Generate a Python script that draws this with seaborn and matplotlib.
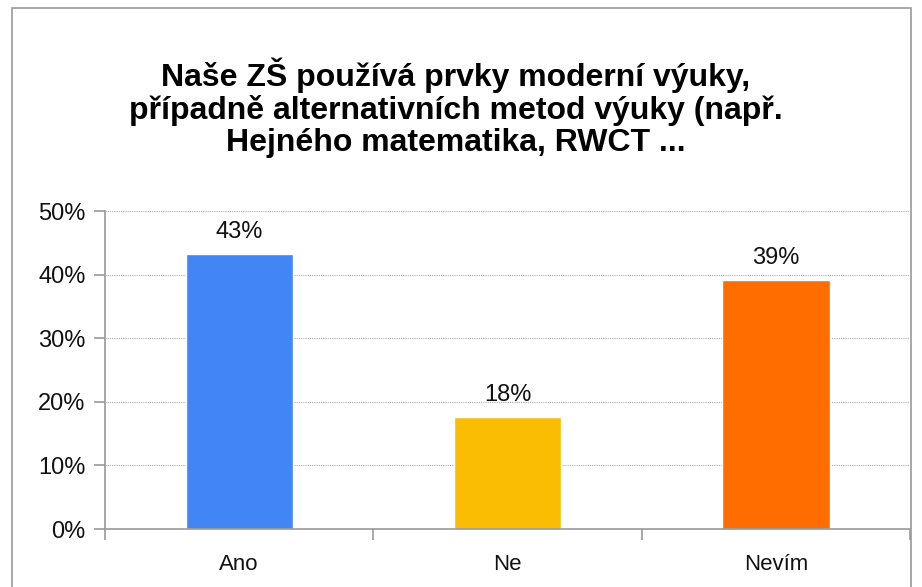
import matplotlib
matplotlib.use("Agg")
import matplotlib.pyplot as plt
import seaborn as sns
import pandas as pd
from matplotlib.patches import Rectangle
from matplotlib.ticker import PercentFormatter

categories = ["Ano", "Ne", "Nevím"]
values = [43.2, 17.6, 39.2]
labels = ["43%", "18%", "39%"]
colors = ["#4285F4", "#FBBC04", "#FF6D01"]
yticks = [0, 10, 20, 30, 40, 50]
title = ("Naše ZŠ používá prvky moderní výuky,\n"
         "případně alternativních metod výuky (např.\n"
         "Hejného matematika, RWCT ...")

sns.set_style("white")
plt.rcParams["font.family"] = ["Liberation Sans", "DejaVu Sans"]

df = pd.DataFrame({"cat": categories, "val": values})

fig = plt.figure(figsize=(9.22, 5.87), dpi=100)
ax = fig.add_axes([105 / 922, 1 - 529 / 587, 805 / 922, 318 / 587])

sns.barplot(data=df, x="cat", y="val", hue="cat", palette=colors,
            width=0.4, legend=False, ax=ax, saturation=1)

for i, (v, lab) in enumerate(zip(values, labels)):
    ax.text(i, v + 1.7, lab, ha="center", va="bottom", fontsize=17, color="#111111")

ax.set_ylim(0, 50)
ax.set_xlim(-0.5, 2.5)
ax.set_yticks(yticks)
ax.yaxis.set_major_formatter(PercentFormatter(decimals=0))
ax.grid(axis="y", color="#aaaaaa", linestyle=(0, (1, 1)), linewidth=0.8)
ax.set_axisbelow(True)
ax.set_xlabel("")
ax.set_ylabel("")

for s in ["top", "right"]:
    ax.spines[s].set_visible(False)
for s in ["left", "bottom"]:
    ax.spines[s].set_color("#999999")
    ax.spines[s].set_linewidth(1.2)

ax.tick_params(axis="y", which="major", length=8, width=1.2, color="#999999",
               labelsize=17, pad=6, left=True, labelcolor="#111111")
ax.set_xticks([0, 1, 2])
ax.set_xticks([-0.5, 0.5, 1.5, 2.5], minor=True)
ax.tick_params(axis="x", which="major", length=0, labelsize=16, pad=18,
               labelcolor="#111111")
ax.tick_params(axis="x", which="minor", length=8, width=1.2, color="#999999",
               bottom=True)

fig.text(456 / 922, 1 - 108 / 587, title, ha="center", va="center",
         fontsize=23, fontweight="bold", linespacing=1.08, color="#000000")

fig.patches.append(Rectangle((12 / 922, -0.05), 899 / 922, 1 - 8 / 587 + 0.05,
                             transform=fig.transFigure, fill=False,
                             edgecolor="#999999", linewidth=1.2))

fig.savefig("out.png", dpi=100)
